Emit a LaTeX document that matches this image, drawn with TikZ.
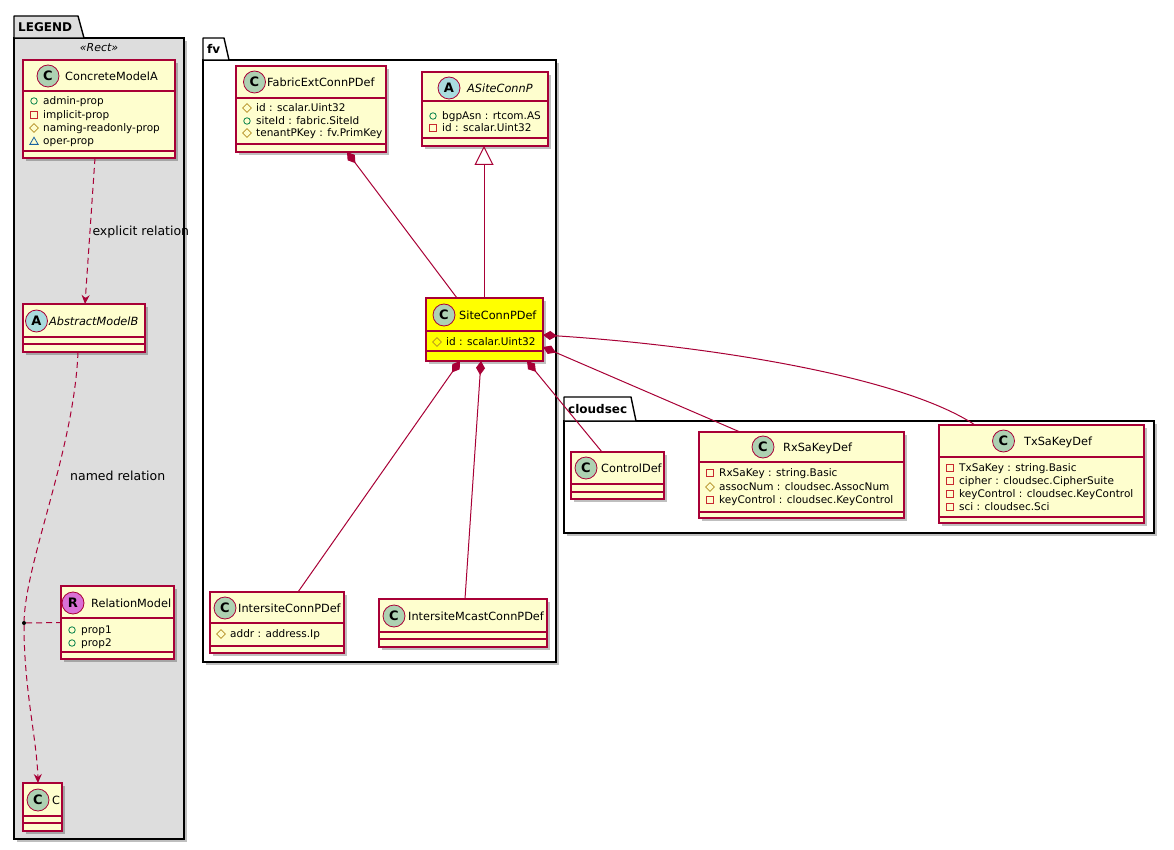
\documentclass[tikz,border=0pt]{standalone}
\usepackage{fontspec}
\setmainfont{DejaVu Sans}
\usepackage{tikz}
\usetikzlibrary{arrows.meta,positioning,calc,shapes.geometric,shadows}
\usepackage{xcolor}
\definecolor{umlfill}{HTML}{FEFECE}
\definecolor{umlline}{HTML}{A80036}
\definecolor{hilite}{HTML}{FFFF00}
\definecolor{legendbg}{HTML}{DDDDDD}
\definecolor{spotC}{HTML}{ADD1B2}
\definecolor{spotA}{HTML}{A9DCDF}
\definecolor{spotR}{HTML}{DA70D6}
\definecolor{vispub}{HTML}{038048}
\definecolor{vispriv}{HTML}{C82930}
\definecolor{visprot}{HTML}{B38D22}
\definecolor{vispkg}{HTML}{1963A0}
\tikzset{
  shade/.style={drop shadow={shadow xshift=3pt, shadow yshift=-3pt, opacity=.25, fill=black}},
  sz/.style 2 args={minimum width=#1pt, minimum height=#2pt},
  pkg/.style={draw=black, line width=1.4pt, fill=white, anchor=north west, inner sep=0pt, outer sep=0pt, shade},
  pkgtab/.style={draw=black, line width=1.4pt, fill=white, line join=round},
  pkgname/.style={anchor=west, inner sep=0pt, font=\bfseries\fontsize{12}{14}\selectfont},
  cls/.style={draw=umlline, line width=1.1pt, fill=umlfill, anchor=north west, inner sep=0pt, outer sep=0pt, shade},
  divider/.style={draw=umlline, line width=1.1pt},
  spot/.style={circle, draw=umlline, line width=.8pt, minimum size=22pt, inner sep=0pt, font=\bfseries\fontsize{13}{13}\selectfont},
  cname/.style={anchor=west, inner sep=0pt, text height=8.2pt, text depth=0pt, font=\fontsize{11.3}{14}\selectfont},
  attr/.style={anchor=west, inner sep=0pt, text height=7.6pt, text depth=0pt, font=\fontsize{10.5}{12}\selectfont},
  pub/.style={circle, draw=vispub, line width=.8pt, minimum size=6.5pt, inner sep=0pt},
  priv/.style={rectangle, draw=vispriv, line width=.8pt, minimum size=6.5pt, inner sep=0pt},
  prot/.style={diamond, draw=visprot, line width=.8pt, minimum size=9pt, inner sep=0pt},
  pkgvis/.style={regular polygon, regular polygon sides=3, draw=vispkg, line width=.8pt, minimum size=9.5pt, inner sep=0pt},
  link/.style={draw=umlline, line width=1pt},
  deprel/.style={link, dash pattern=on 6pt off 4pt},
  comp/.style={link, {Diamond[length=14pt, width=9pt]}-},
  inh/.style={link, {Triangle[open, length=19pt, width=19pt]}-},
  deptip/.style={-{Stealth[length=9pt, width=8pt, inset=3pt]}},
  lbl/.style={anchor=west, inner sep=0pt, text height=8.5pt, text depth=0pt, font=\fontsize{12.5}{15}\selectfont},
  dot/.style={circle, fill=black, inner sep=0pt, minimum size=4pt},
}

\begin{document}
\begin{tikzpicture}[x=1pt, y=-1pt]
    \fill[white] (0,0) rectangle (1174,850);
    \useasboundingbox (0,0) rectangle (1174,850);
    % packages
    \node[pkg, fill=legendbg, sz={170}{801}] (legend) at (14,38) {};
    \draw[pkgtab, fill=legendbg] (legend.north west) -- ++(0,-22) -- ++(64,0) -- ++(6,22) -- cycle;
    \node[pkgname] (legendname) at (18,27) {LEGEND};
    \node[inner sep=0pt, font=\itshape\fontsize{11}{13}\selectfont] (rectst) at (99,48) {«Rect»};
    \node[pkg, sz={353}{602}] (fv) at (203,60) {};
    \draw[pkgtab] (fv.north west) -- ++(0,-22) -- ++(21,0) -- ++(5,22) -- cycle;
    \node[pkgname] (fvname) at (207,49) {fv};
    \node[pkg, sz={590}{112}] (cloudsec) at (564,421) {};
    \draw[pkgtab] (cloudsec.north west) -- ++(0,-24) -- ++(67,0) -- ++(5,24) -- cycle;
    \node[pkgname] (cloudsecname) at (568,409) {cloudsec};

    % legend classes
    \node[cls, sz={152}{98}] (modela) at (23,60) {};
    \draw[divider] (23,91) -- (175,91) (23,151) -- (175,151);
    \node[spot, fill=spotC] (modelaspot) at (48,76) {C};
    \node[cname] (modelaname) at (65,76) {ConcreteModelA};
    \node[pub] (modela1i) at (34,101) {};   \node[attr] (modela1) at (43,101) {admin-prop};
    \node[priv] (modela2i) at (34,115) {};  \node[attr] (modela2) at (43,115) {implicit-prop};
    \node[prot] (modela3i) at (34,128) {};  \node[attr] (modela3) at (43,128) {naming-readonly-prop};
    \node[pkgvis] (modela4i) at (34,142) {}; \node[attr] (modela4) at (43,141) {oper-prop};

    \node[cls, sz={122}{48}] (modelb) at (23,304) {};
    \draw[divider] (23,337) -- (145,337) (23,344) -- (145,344);
    \node[spot, fill=spotA] (modelbspot) at (36.5,321) {A};
    \node[cname, font=\itshape\fontsize{11.3}{14}\selectfont] (modelbname) at (49,321) {AbstractModelB};

    \node[cls, sz={113}{73}] (relm) at (61,586) {};
    \draw[divider] (61,618) -- (174,618) (61,652) -- (174,652);
    \node[spot, fill=spotR] (relmspot) at (73,603) {R};
    \node[cname] (relmname) at (91,603) {RelationModel};
    \node[pub] (relm1i) at (72,630) {}; \node[attr] (relm1) at (81,630) {prop1};
    \node[pub] (relm2i) at (72,643) {}; \node[attr] (relm2) at (81,643) {prop2};

    \node[cls, sz={39}{48}] (modelc) at (23,783) {};
    \draw[divider] (23,816) -- (62,816) (23,823) -- (62,823);
    \node[spot, fill=spotC] (modelcspot) at (38,800) {C};
    \node[cname] (modelcname) at (52,800) {C};

    % fv
    \node[cls, sz={150}{86}] (fabric) at (236,66) {};
    \draw[divider] (236,98) -- (386,98) (236,144) -- (386,144);
    \node[spot, fill=spotC] (fabricspot) at (254.5,82) {C};
    \node[cname] (fabricname) at (267,82) {FabricExtConnPDef};
    \node[prot] (fabric1i) at (247,108) {}; \node[attr] (fabric1) at (256,108) {id : scalar.Uint32};
    \node[pub] (fabric2i) at (247,121) {};  \node[attr] (fabric2) at (256,121) {siteId : fabric.SiteId};
    \node[prot] (fabric3i) at (247,133) {}; \node[attr] (fabric3) at (256,133) {tenantPKey : fv.PrimKey};

    \node[cls, sz={126}{74}] (asite) at (422,72) {};
    \draw[divider] (422,101) -- (548,101) (422,138) -- (548,138);
    \node[spot, fill=spotA] (asitespot) at (449,88) {A};
    \node[cname, font=\itshape\fontsize{11.3}{14}\selectfont] (asitename) at (467,88) {ASiteConnP};
    \node[pub] (asite1i) at (433,116) {};  \node[attr] (asite1) at (442,116) {bgpAsn : rtcom.AS};
    \node[priv] (asite2i) at (433,128) {}; \node[attr] (asite2) at (442,128) {id : scalar.Uint32};

    \node[cls, fill=hilite, sz={117}{63}] (site) at (426,298) {};
    \draw[divider] (426,331) -- (543,331) (426,351) -- (543,351);
    \node[spot, fill=spotC] (sitespot) at (444,315) {C};
    \node[cname] (sitename) at (459,315) {SiteConnPDef};
    \node[prot] (site1i) at (437,342) {}; \node[attr] (site1) at (446,342) {id : scalar.Uint32};

    \node[cls, sz={134}{61}] (isite) at (210,592) {};
    \draw[divider] (210,623) -- (344,623) (210,646) -- (344,646);
    \node[spot, fill=spotC] (isitespot) at (225,608) {C};
    \node[cname] (isitename) at (238,608) {IntersiteConnPDef};
    \node[prot] (isite1i) at (221,634) {}; \node[attr] (isite1) at (230,634) {addr : address.Ip};

    \node[cls, sz={168}{48}] (mcast) at (379,599) {};
    \draw[divider] (379,632) -- (547,632) (379,639) -- (547,639);
    \node[spot, fill=spotC] (mcastspot) at (394,616) {C};
    \node[cname] (mcastname) at (408,616) {IntersiteMcastConnPDef};

    % cloudsec
    \node[cls, sz={93}{47}] (ctrl) at (571,452) {};
    \draw[divider] (571,484) -- (664,484) (571,492) -- (664,492);
    \node[spot, fill=spotC] (ctrlspot) at (586,468) {C};
    \node[cname] (ctrlname) at (601,468) {ControlDef};

    \node[cls, sz={205}{86}] (rx) at (699,432) {};
    \draw[divider] (699,462) -- (904,462) (699,512) -- (904,512);
    \node[spot, fill=spotC] (rxspot) at (763,447) {C};
    \node[cname] (rxname) at (783,447) {RxSaKeyDef};
    \node[priv] (rx1i) at (710,473) {}; \node[attr] (rx1) at (719,473) {RxSaKey : string.Basic};
    \node[prot] (rx2i) at (710,487) {}; \node[attr] (rx2) at (719,487) {assocNum : cloudsec.AssocNum};
    \node[priv] (rx3i) at (710,500) {}; \node[attr] (rx3) at (719,500) {keyControl : cloudsec.KeyControl};

    \node[cls, sz={205}{98}] (tx) at (939,425) {};
    \draw[divider] (939,457) -- (1144,457) (939,517) -- (1144,517);
    \node[spot, fill=spotC] (txspot) at (1003.5,441) {C};
    \node[cname] (txname) at (1024,441) {TxSaKeyDef};
    \node[priv] (tx1i) at (950,468) {}; \node[attr] (tx1) at (959,468) {TxSaKey : string.Basic};
    \node[priv] (tx2i) at (950,481) {}; \node[attr] (tx2) at (959,481) {cipher : cloudsec.CipherSuite};
    \node[priv] (tx3i) at (950,494) {}; \node[attr] (tx3) at (959,494) {keyControl : cloudsec.KeyControl};
    \node[priv] (tx4i) at (950,507) {}; \node[attr] (tx4) at (959,507) {sci : cloudsec.Sci};

    % legend relations
    \draw[deprel, deptip] ([xshift=72pt]modela.south west) -- ([xshift=62pt]modelb.north west)
      node[lbl, midway, xshift=2pt] (explbl) {explicit relation};
    \node[dot] (reldot) at (24,623) {};
    \draw[deprel] ([xshift=55pt]modelb.south west) .. controls (74,450) and (26,560) .. (reldot);
    \draw[deprel, deptip] (reldot) .. controls (24,690) and (37,740) .. ([xshift=15pt]modelc.north west);
    \draw[deprel] (reldot) -- (relm.west);
    \node[lbl] (namedlbl) at (70,476) {named relation};

    % links
    \draw[comp] ([xshift=111pt]fabric.south west) -- ([xshift=31pt]site.north west);
    \draw[inh] ([xshift=62pt]asite.south west) -- ([xshift=58pt]site.north west);
    \draw[comp] ([xshift=34pt]site.south west) -- ([xshift=88pt]isite.north west);
    \draw[comp] ([xshift=55pt]site.south west) -- ([xshift=86pt]mcast.north west);
    \draw[comp] ([xshift=101pt]site.south west) -- ([xshift=31pt]ctrl.north west);
    \draw[comp] ([yshift=-49pt]site.north east) -- ([xshift=41pt]rx.north west);
    \draw[comp] ([yshift=-37pt]site.north east) .. controls (700,345) and (900,375) .. ([xshift=36pt]tx.north west);
\end{tikzpicture}
\end{document}
